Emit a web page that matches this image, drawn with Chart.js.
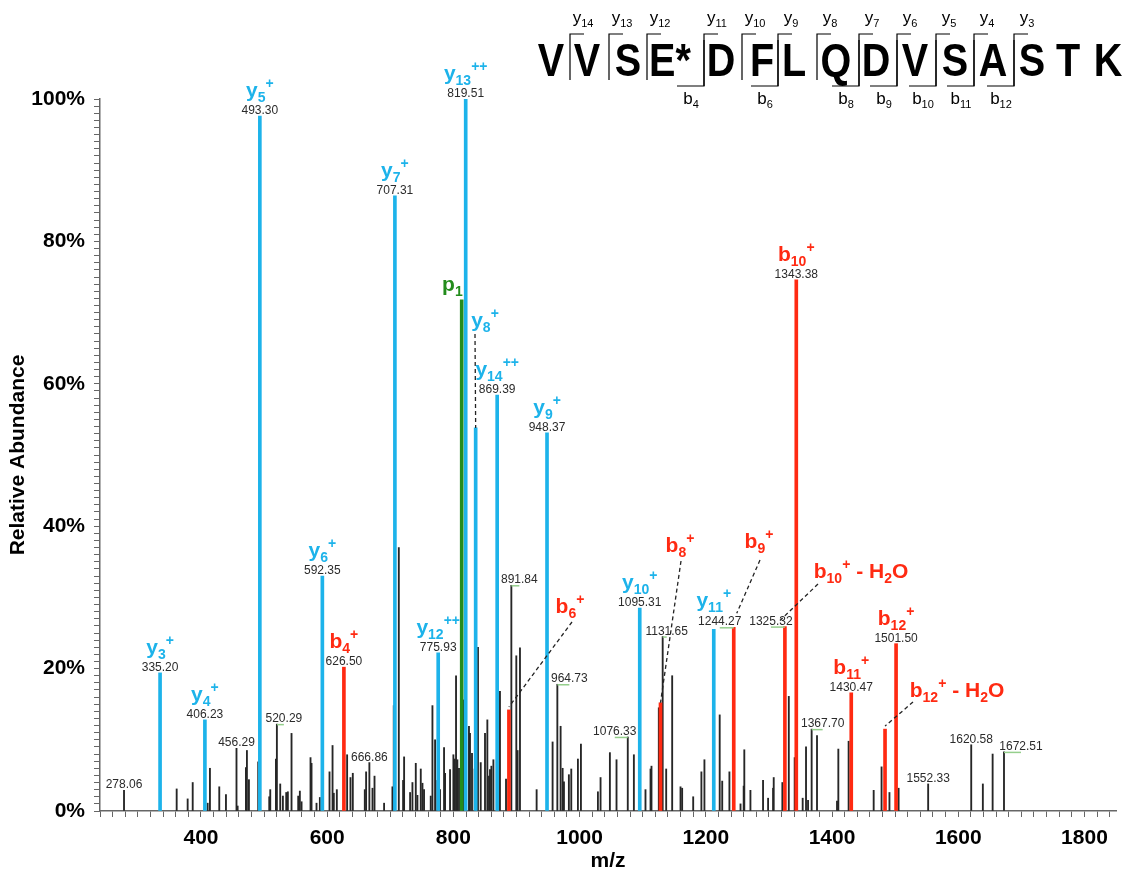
<!DOCTYPE html>
<html>
<head>
<meta charset="utf-8">
<title>VVSE*DFLQDVSASTK MS/MS</title>
<script src="https://cdn.jsdelivr.net/npm/chart.js@4.4.1/dist/chart.umd.min.js"></script>
<style>
  html, body { margin: 0; padding: 0; background: #fff; }
  #wrap { width: 1127px; height: 882px; }
</style>
</head>
<body>
<div id="wrap"><canvas id="spectrum" width="1127" height="882"></canvas></div>
<script>
// peptide sequence and observed cleavages
const residues = ['V', 'V', 'S', 'E*', 'D', 'F', 'L', 'Q', 'D', 'V', 'S', 'A', 'S', 'T', 'K'];
const yCuts = [14, 13, 12, 11, 10, 9, 8, 7, 6, 5, 4, 3];
const bCuts = [4, 6, 8, 9, 10, 11, 12];

// y ions
const yNames = ['y3+', 'y4+', 'y5+', 'y6+', 'y7+', 'y12++', 'y13++', 'y8+', 'y14++', 'y9+', 'y10+', 'y11+'];
const yMz = [335.20, 406.23, 493.30, 592.35, 707.31, 775.93, 819.51, 835.3, 869.39, 948.37, 1095.31, 1212.6];
const yInt = [19.4, 12.8, 97.6, 33.0, 86.4, 22.2, 100, 53.8, 58.4, 53.1, 28.5, 25.5];
const yTagged = [1, 1, 1, 1, 1, 1, 1, 0, 1, 1, 1, 0];

// b ions
const bNames = ['b4+', 'b6+', 'b8+', 'b9+', 'b10+ - H2O', 'b10+', 'b11+', 'b12+ - H2O', 'b12+'];
const bMz = [626.50, 888.0, 1128.2, 1244.27, 1325.32, 1343.38, 1430.47, 1484.0, 1501.50];
const bInt = [20.2, 14.2, 15.2, 25.8, 25.9, 74.6, 16.6, 11.5, 23.5];
const bTagged = [1, 0, 0, 1, 1, 1, 1, 0, 1];

// precursor-related
const pNames = ['p1'];
const pMz = [813.2];
const pInt = [71.8];

// unassigned peaks with printed m/z
const otherMz = [278.06, 456.29, 520.29, 666.86, 891.84, 964.73, 1076.33, 1131.65, 1367.70, 1552.33, 1620.58, 1672.51];
const otherInt = [2.9, 8.8, 12.2, 6.8, 31.7, 17.8, 10.4, 24.5, 11.5, 3.8, 9.3, 8.3];

// unassigned peaks, unlabelled
const noiseMz = [
  361.5, 378.9, 386.9, 410.6, 414.2, 429.0, 439.6, 458.1, 471.2, 472.8, 476.0, 490.7,
  508.2, 509.8, 518.8, 525.6, 529.8, 535.1, 537.7, 543.5, 554.1, 556.7, 559.4, 573.6,
  575.2, 583.1, 588.4, 603.7, 608.5, 610.5, 615.3, 631.6, 636.9, 640.6, 659.6, 661.7,
  671.8, 675.0, 690.2, 703.4, 705.5, 713.5, 720.3, 721.9, 731.4, 735.1, 740.4, 743.0,
  748.3, 751.0, 753.5, 764.1, 766.8, 771.0, 774.6, 778.8, 785.2, 786.8, 794.7, 800.0,
  802.1, 804.2, 806.3, 808.9, 815.8, 824.7, 826.3, 829.5, 833.7, 839.0, 843.3, 850.1,
  853.8, 856.4, 858.0, 860.2, 863.4, 873.8, 883.4, 899.7, 901.8, 905.5, 931.9, 957.2,
  969.9, 973.1, 975.2, 983.0, 986.8, 997.3, 1002.1, 1029.0, 1033.2, 1048.0, 1058.5, 1086.0,
  1104.4, 1112.4, 1113.9, 1125.5, 1137.2, 1146.7, 1159.9, 1162.5, 1180.0, 1193.0, 1197.8, 1222.0,
  1226.0, 1237.4, 1255.0, 1260.0, 1261.0, 1270.7, 1290.7, 1298.7, 1306.6, 1307.6, 1321.3, 1331.5,
  1340.8, 1353.5, 1358.8, 1362.0, 1376.2, 1407.9, 1410.0, 1426.3, 1466.0, 1478.5, 1491.0, 1505.5,
  1639.0, 1654.5
];
const noiseInt = [
  3.1, 1.7, 4.0, 1.1, 6.0, 3.4, 2.3, 0.7, 6.1, 8.5, 4.4, 6.9,
  2.0, 3.0, 7.3, 3.8, 2.1, 2.6, 2.7, 10.9, 2.1, 2.8, 1.3, 7.5,
  6.7, 1.1, 1.9, 5.5, 9.2, 2.5, 3.0, 7.9, 4.7, 5.3, 3.0, 5.5,
  3.2, 4.9, 1.1, 3.4, 14.8, 37.0, 4.3, 7.6, 2.6, 4.0, 6.7, 2.2,
  5.9, 3.9, 3.0, 2.1, 14.8, 10.0, 4.3, 3.0, 8.9, 5.3, 5.8, 7.9,
  7.3, 19.0, 7.2, 6.0, 15.6, 11.9, 10.9, 8.1, 5.9, 23.0, 6.8, 10.9,
  12.8, 4.9, 5.8, 6.3, 7.2, 16.8, 4.5, 21.8, 8.5, 22.9, 3.0, 9.7,
  11.9, 6.0, 4.1, 5.1, 5.9, 7.3, 9.4, 2.7, 4.7, 8.2, 7.2, 7.9,
  3.0, 5.9, 6.3, 14.5, 5.9, 19.0, 3.4, 3.2, 2.0, 5.5, 7.2, 13.5,
  4.2, 5.5, 1.0, 3.5, 8.6, 2.9, 4.3, 1.8, 3.2, 4.7, 4.0, 16.1,
  7.5, 1.8, 9.0, 1.5, 10.6, 1.4, 8.7, 9.8, 2.9, 6.2, 2.6, 3.2,
  3.8, 8.0
];

const CYAN = '#1db3ea';
const RED = '#ff2a12';
const GREEN = '#238c1c';
const SANS = 'Arial, "Liberation Sans", sans-serif';

const pts = (mz, it) => mz.map((m, i) => ({ x: m, y: it[i] }));

// layout of the sequence header
const residueX = [551, 587, 628, 670, 721, 762, 794, 836, 876, 915, 955, 993, 1032, 1068, 1108];
const cutX = [570, 609, 647, 704, 742, 778, 817, 859, 897, 936, 974, 1014, 1051, 1089];

// labels moved off their peak, with a dashed leader back to it
const callouts = {
  'y8+':        { x: 485, y: 327, from: [475, 334], to: [0, 0] },
  'b6+':        { x: 570, y: 613, from: [572, 622], to: [0, -3] },
  'b8+':        { x: 680, y: 552, from: [681, 561], to: [0, 0] },
  'b9+':        { x: 759, y: 548, from: [760, 560], to: [3, -14] },
  'b10+ - H2O': { x: 861, y: 578, from: [818, 584], to: [-5, -6] },
  'b12+ - H2O': { x: 957, y: 697, from: [913, 702], to: [0, -3] }
};
// extra room above a peak whose neighbour's m/z text sits underneath
const lift = { 'y11+': 22 };
// m/z text shifted sideways, joined to the peak by a short underline
const mzShift = { '520.29': 7, '891.84': 8, '964.73': 12, '1076.33': -13, '1131.65': 4,
  '1244.27': -14, '1325.32': -14, '1367.70': 11, '1672.51': 17 };

function ionParts(name) {
  const m = name.match(/^([a-z])(\d+)(\+*)(.*)$/);
  const parts = [{ t: m[1], k: 'base' }, { t: m[2], k: 'sub' }];
  if (m[3]) parts.push({ t: m[3], k: 'sup' });
  m[4].split(/(\d)/).forEach(s => {
    if (s) parts.push({ t: s, k: /\d/.test(s) ? 'sub' : 'base' });
  });
  return parts;
}

function drawRich(ctx, parts, x, y, fonts, shift, align) {
  let w = 0;
  parts.forEach(p => { ctx.font = fonts[p.k]; p.w = ctx.measureText(p.t).width; w += p.w; });
  let cx = align === 'right' ? x - w : x - w / 2;
  ctx.textAlign = 'left';
  ctx.textBaseline = 'alphabetic';
  parts.forEach(p => { ctx.font = fonts[p.k]; ctx.fillText(p.t, cx, y + shift[p.k]); cx += p.w; });
}

const ionFonts = { base: 'bold 21px ' + SANS, sub: 'bold 14px ' + SANS, sup: 'bold 14px ' + SANS };
const ionShift = { base: 0, sub: 5, sup: -9 };

function drawMz(ctx, x, top, mz) {
  const txt = mz.toFixed(2);
  const dx = mzShift[txt] || 0;
  if (dx) {
    ctx.strokeStyle = '#95cf8c';
    ctx.lineWidth = 1.5;
    ctx.setLineDash([]);
    ctx.beginPath();
    ctx.moveTo(x, top + 0.5);
    ctx.lineTo(x + dx, top + 0.5);
    ctx.stroke();
  }
  ctx.fillStyle = '#2b2b2b';
  ctx.font = '12px ' + SANS;
  ctx.textAlign = 'center';
  ctx.textBaseline = 'alphabetic';
  ctx.fillText(txt, x + dx, top - 2);
}

function drawIons(ctx, xs, ys, names, mzs, ints, tagged, color) {
  names.forEach((name, i) => {
    const x = xs.getPixelForValue(mzs[i]);
    const top = ys.getPixelForValue(ints[i]);
    if (tagged[i]) drawMz(ctx, x, top, mzs[i]);
    ctx.fillStyle = color;
    const c = callouts[name];
    if (c) {
      drawRich(ctx, ionParts(name), c.x, c.y, ionFonts, ionShift);
      ctx.strokeStyle = '#222';
      ctx.lineWidth = 1.3;
      ctx.setLineDash([4, 3]);
      ctx.beginPath();
      ctx.moveTo(c.from[0], c.from[1]);
      ctx.lineTo(x + c.to[0], top + c.to[1]);
      ctx.stroke();
      ctx.setLineDash([]);
    } else {
      const gap = lift[name] || (tagged[i] ? 19 : 5);
      drawRich(ctx, ionParts(name), x, top - gap, ionFonts, ionShift);
    }
  });
}

function drawSequence(ctx) {
  ctx.fillStyle = '#000';
  ctx.font = 'bold 46px ' + SANS;
  ctx.textAlign = 'center';
  ctx.textBaseline = 'alphabetic';
  residues.forEach((r, i) => {
    ctx.save();
    ctx.translate(residueX[i], 76);
    ctx.scale(0.86, 1);
    ctx.fillText(r, 0, 0);
    ctx.restore();
  });

  const n = residues.length;
  const small = { base: '17px ' + SANS, sub: '11px ' + SANS };
  const smallShift = { base: 0, sub: 4 };
  ctx.strokeStyle = '#000';
  ctx.lineWidth = 1.2;
  yCuts.forEach(k => {
    const x = cutX[n - k - 1];
    const hasB = bCuts.includes(n - k);
    ctx.beginPath();
    ctx.moveTo(x + 14, 34);
    ctx.lineTo(x, 34);
    ctx.lineTo(x, hasB ? 86 : 80);
    ctx.stroke();
    drawRich(ctx, [{ t: 'y', k: 'base' }, { t: String(k), k: 'sub' }], x + 13, 23, small, smallShift);
  });
  bCuts.forEach(k => {
    const x = cutX[k - 1];
    ctx.beginPath();
    ctx.moveTo(x - 27, 86);
    ctx.lineTo(x, 86);
    ctx.lineTo(x, 40);
    ctx.stroke();
    drawRich(ctx, [{ t: 'b', k: 'base' }, { t: String(k), k: 'sub' }], x - 13, 104, small, smallShift);
  });
}

const annotations = {
  id: 'annotations',
  afterDraw(chart) {
    const ctx = chart.ctx;
    const xs = chart.scales.x, ys = chart.scales.y;
    ctx.save();
    otherMz.forEach((m, i) => drawMz(ctx, xs.getPixelForValue(m), ys.getPixelForValue(otherInt[i]), m));
    drawIons(ctx, xs, ys, yNames, yMz, yInt, yTagged, CYAN);
    drawIons(ctx, xs, ys, bNames, bMz, bInt, bTagged, RED);
    // p1 sits left of its bar
    pNames.forEach((name, i) => {
      ctx.fillStyle = GREEN;
      drawRich(ctx, ionParts(name), xs.getPixelForValue(pMz[i]) + 1,
        ys.getPixelForValue(pInt[i]) - 9, ionFonts, ionShift, 'right');
    });
    drawSequence(ctx);
    ctx.restore();
  }
};

const tickFont = { family: SANS, size: 21, weight: 'bold' };
const titleFont = { family: SANS, size: 21, weight: 'bold' };

new Chart(document.getElementById('spectrum'), {
  type: 'bar',
  data: {
    datasets: [
      { label: 'y', data: pts(yMz, yInt), backgroundColor: CYAN, barThickness: 3, grouped: false, order: 1 },
      { label: 'b', data: pts(bMz, bInt), backgroundColor: RED, barThickness: 3, grouped: false, order: 1 },
      { label: 'p', data: pts(pMz, pInt), backgroundColor: GREEN, barThickness: 3, grouped: false, order: 1 },
      { label: 'other', data: pts(otherMz.concat(noiseMz), otherInt.concat(noiseInt)),
        backgroundColor: '#262626', barThickness: 1.2, grouped: false, order: 2 }
    ]
  },
  options: {
    responsive: false,
    animation: false,
    layout: { padding: { top: 99, right: 11, bottom: 0, left: 0 } },
    plugins: { legend: { display: false }, tooltip: { enabled: false } },
    scales: {
      x: {
        type: 'linear',
        min: 240,
        max: 1850,
        offset: false,
        grid: { drawOnChartArea: false, drawTicks: true, tickLength: 6, color: '#666', offset: false },
        border: { display: true, color: '#666', width: 1.5 },
        ticks: {
          stepSize: 20, includeBounds: false, autoSkip: false, maxRotation: 0, minRotation: 0,
          padding: 9, color: '#000', font: tickFont,
          callback: v => (v % 200 === 0 ? String(v) : '')
        },
        afterBuildTicks: s => { s.ticks = s.ticks.filter(t => t.value % 20 === 0); },
        afterFit: s => { s.height = 71; },
        title: { display: true, text: 'm/z', color: '#000', font: titleFont, padding: { top: 0, bottom: 8 } }
      },
      y: {
        min: 0,
        max: 100,
        grid: { drawOnChartArea: false, drawTicks: true, tickLength: 6, color: '#666' },
        border: { display: true, color: '#666', width: 1.5 },
        ticks: {
          stepSize: 1, autoSkip: false, padding: 9, color: '#000', font: tickFont,
          callback: v => (v % 20 === 0 ? v + '%' : '')
        },
        afterFit: s => { s.width = 100; },
        title: { display: true, text: 'Relative Abundance', color: '#000', font: titleFont,
          padding: { top: 6, bottom: 0 } }
      }
    }
  },
  plugins: [annotations]
});
</script>
</body>
</html>
